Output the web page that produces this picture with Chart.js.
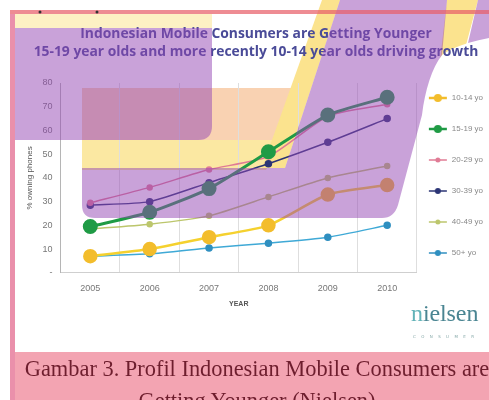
<!DOCTYPE html>
<html>
<head>
<meta charset="utf-8">
<script src="https://cdn.jsdelivr.net/npm/chart.js@4.4.1/dist/chart.umd.min.js"></script>
<style>
  html, body { margin: 0; padding: 0; background: #fff; }
  #wrap { position: relative; width: 489px; height: 400px; overflow: hidden; }
  #chart { position: absolute; left: 0; top: 0; }
  .cap { position: absolute; left: 15px; width: 484px; text-align: center; white-space: nowrap;
         font-family: "Liberation Serif", "DejaVu Serif", serif; font-size: 22.4px; line-height: 22px; color: #6e1e2e; }
  #logo { position: absolute; left: 411px; top: 300px; font-family: "Liberation Serif", serif; font-size: 24px;
          color: #4a8592; letter-spacing: -0.1px; }
  #logo span { color: #62b3b8; }
  #logoSub { position: absolute; left: 413px; top: 334px; font-family: "DejaVu Sans", sans-serif; font-size: 4px;
             color: #8aa; letter-spacing: 5.4px; }
</style>
</head>
<body>
<div id="wrap">
  <canvas id="chart" width="489" height="400"></canvas>
  <div id="logo"><span>n</span>ielsen</div>
  <div id="logoSub">CONSUMER</div>
  <div class="cap" style="top:358px">Gambar 3. Profil Indonesian Mobile Consumers are</div>
  <div class="cap" style="top:390px">Getting Younger (Nielsen)</div>
</div>
<script>
// data
const years = ['2005', '2006', '2007', '2008', '2009', '2010'];
const seriesNames = ['10-14 yo', '15-19 yo', '20-29 yo', '30-39 yo', '40-49 yo', '50+ yo'];
const age10to14 = [7, 10, 15, 20, 33, 37];
const age15to19 = [19.5, 25.5, 35.5, 51, 66.5, 74];
const age20to29 = [29.5, 36, 43.5, 49, 66, 71];
const age30to39 = [28.5, 30, 38, 46, 55, 65];
const age40to49 = [18.5, 20.5, 24, 32, 40, 45];
const age50plus = [7, 8, 10.5, 12.5, 15, 20];
const yMin = 0, yMax = 80, yStep = 10;

const title1 = 'Indonesian Mobile Consumers are Getting Younger';
const title2 = '15-19 year olds and more recently 10-14 year olds driving growth';
const yTitle = '% owning phones';
const xTitle = 'YEAR';

// styles
const lineColors = ['#f5d12e', '#1f9b45', '#e07b95', '#2b3575', '#bcc66c', '#3fa9d6'];
const pointColors = ['#f3bd2c', '#1f9b45', '#e07b95', '#2b3575', '#bcc66c', '#2f8fc0'];
const lineWidths = [2.5, 3, 1.5, 1.5, 1.5, 1.5];
const pointSizes = [6, 6, 2.5, 3, 2.5, 3];
const allValues = [age10to14, age15to19, age20to29, age30to39, age40to49, age50plus];

function legendIcon(color, r, lw) {
    const c = document.createElement('canvas');
    c.width = 20; c.height = 12;
    const g = c.getContext('2d');
    g.strokeStyle = color; g.lineWidth = Math.min(lw, 2.5);
    g.beginPath(); g.moveTo(1, 6); g.lineTo(19, 6); g.stroke();
    g.fillStyle = color;
    g.beginPath(); g.arc(10, 6, Math.min(r, 4), 0, Math.PI * 2); g.fill();
    return c;
}
const icons = lineColors.map((c, i) => legendIcon(pointColors[i], pointSizes[i], lineWidths[i]));

function poly(ctx, color, pts) {
    ctx.fillStyle = color;
    ctx.beginPath();
    ctx.moveTo(pts[0][0], pts[0][1]);
    for (let i = 1; i < pts.length; i++) ctx.lineTo(pts[i][0], pts[i][1]);
    ctx.closePath();
    ctx.fill();
}

// slide decoration behind and over the chart
const decor = {
    id: 'decor',
    beforeDraw(chart) {
        const ctx = chart.ctx;
        ctx.save();
        ctx.fillStyle = '#fff';
        ctx.fillRect(0, 0, chart.width, chart.height);
        ctx.fillStyle = '#fdf1c4';
        ctx.fillRect(15, 14, 197, 14);
        poly(ctx, '#f9d2b2', [[82, 88], [296, 88], [280, 140], [82, 140]]);
        poly(ctx, '#fbe8a2', [[82, 140], [282, 140], [266, 170], [82, 170]]);
        poly(ctx, '#fbe38e', [[322, 0], [340, 0], [285, 168], [262, 168]]);
        poly(ctx, '#fbe38e', [[447, 0], [478, 0], [466, 45], [440, 60]]);
        // white bulge on the right
        ctx.fillStyle = '#fff';
        ctx.beginPath();
        ctx.moveTo(489, 38);
        ctx.bezierCurveTo(470, 42, 452, 47, 442, 55);
        ctx.bezierCurveTo(432, 68, 425, 90, 422, 115);
        ctx.lineTo(398, 205);
        ctx.quadraticCurveTo(394, 218, 382, 218);
        ctx.lineTo(489, 218);
        ctx.closePath();
        ctx.fill();
        // caption band
        ctx.fillStyle = '#f3a4b2';
        ctx.fillRect(15, 352, 474, 48);

        // title
        ctx.font = 'bold 13px "Open Sans"';
        const k = 445 / ctx.measureText(title2).width;
        ctx.font = 'bold ' + (13 * k).toFixed(2) + 'px "Open Sans"';
        ctx.fillStyle = '#4a4b98';
        ctx.textAlign = 'center';
        ctx.textBaseline = 'alphabetic';
        ctx.fillText(title1, 256, 38);
        ctx.fillText(title2, 256, 56);
        ctx.restore();
    },
    afterDatasetsDraw(chart) {
        const ctx = chart.ctx;
        ctx.save();
        const purple = 'rgba(147, 69, 179, 0.5)';
        ctx.fillStyle = purple;
        // left block
        ctx.beginPath();
        ctx.moveTo(15, 28); ctx.lineTo(212, 28); ctx.lineTo(212, 126);
        ctx.quadraticCurveTo(212, 140, 198, 140); ctx.lineTo(15, 140);
        ctx.closePath(); ctx.fill();
        // big band
        ctx.beginPath();
        ctx.moveTo(340, 0); ctx.lineTo(447, 0); ctx.lineTo(442, 55);
        ctx.bezierCurveTo(432, 68, 425, 90, 422, 115);
        ctx.lineTo(398, 205);
        ctx.quadraticCurveTo(394, 218, 382, 218);
        ctx.lineTo(95, 218);
        ctx.quadraticCurveTo(82, 218, 82, 205);
        ctx.lineTo(82, 168); ctx.lineTo(285, 168);
        ctx.closePath(); ctx.fill();
        // far right corner piece
        ctx.beginPath();
        ctx.moveTo(478, 0); ctx.lineTo(489, 0); ctx.lineTo(489, 38);
        ctx.bezierCurveTo(482, 39.5, 475, 41, 468, 43);
        ctx.closePath(); ctx.fill();
        // frame lines
        ctx.fillStyle = 'rgba(232, 95, 105, 0.72)';
        ctx.fillRect(10, 10, 479, 4);
        ctx.fillStyle = 'rgba(220, 70, 115, 0.6)';
        ctx.fillRect(10, 14, 5, 386);
        ctx.fillStyle = '#333';
        [40, 97].forEach(x => { ctx.beginPath(); ctx.arc(x, 12, 1.5, 0, Math.PI * 2); ctx.fill(); });
        ctx.restore();
    }
};

const datasets = seriesNames.map((name, i) => ({
    label: name,
    data: allValues[i],
    borderColor: lineColors[i],
    backgroundColor: pointColors[i],
    pointBackgroundColor: pointColors[i],
    pointBorderColor: pointColors[i],
    borderWidth: lineWidths[i],
    pointRadius: pointSizes[i],
    tension: 0.2,
    fill: false
}));

new Chart(document.getElementById('chart'), {
    type: 'line',
    data: { labels: years, datasets: datasets },
    plugins: [decor],
    options: {
        responsive: false,
        animation: false,
        devicePixelRatio: 1,
        layout: { padding: { top: 83, left: 21, right: -4, bottom: 92 } },
        plugins: {
            title: { display: false },
            tooltip: { enabled: false },
            legend: {
                position: 'right',
                align: 'start',
                labels: {
                    usePointStyle: true,
                    pointStyleWidth: 20,
                    padding: 11,
                    color: '#888',
                    font: { family: 'Liberation Sans', size: 8, lineHeight: 2.5 },
                    generateLabels(chart) {
                        const items = Chart.defaults.plugins.legend.labels.generateLabels(chart);
                        items.forEach((it, i) => { it.pointStyle = icons[i]; it.text = [it.text]; });
                        return items;
                    }
                }
            }
        },
        scales: {
            x: {
                offset: true,
                grid: { offset: true, color: '#dedede', drawTicks: false },
                border: { color: '#cfcfcf' },
                ticks: { color: '#777', font: { family: 'Liberation Sans', size: 9 }, padding: 10 },
                title: { display: true, text: xTitle, color: '#555', font: { family: 'Liberation Sans', size: 7, weight: 'bold' }, padding: { top: -4, bottom: 0 } }
            },
            y: {
                min: yMin,
                max: yMax,
                grid: { display: false, drawTicks: false },
                border: { display: true, color: '#b5b5b5', dash: [2, 2] },
                ticks: {
                    stepSize: yStep,
                    color: '#777',
                    font: { family: 'Liberation Sans', size: 9 },
                    padding: 8,
                    callback: v => v === 0 ? '-' : v
                },
                title: { display: true, text: yTitle, color: '#555', font: { family: 'Liberation Sans', size: 8 }, padding: { top: 4, bottom: 0 } }
            }
        }
    }
});
</script>
</body>
</html>
